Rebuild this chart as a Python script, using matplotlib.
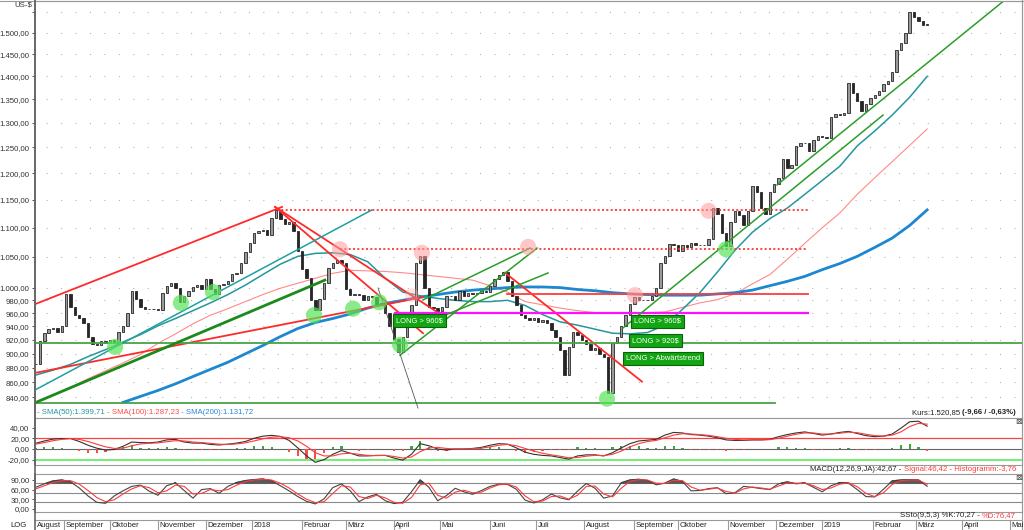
import numpy as np
import pandas as pd
import matplotlib
matplotlib.use("Agg")
import matplotlib.pyplot as plt
from matplotlib.ticker import FixedLocator, NullLocator
from matplotlib.lines import Line2D
import matplotlib.transforms as mtrans

plt.rcParams["font.family"] = ["Liberation Sans", "DejaVu Sans"]

# ---------------------------------------------------------------- data
first_day = "2017-08-14"            # trading-day index 0
candle_first, candle_step = 1, 2    # one candle every 2 trading days
closes = [885, 918, 930, 936, 938, 932, 940, 990, 970, 958,
          953, 945, 925, 914, 913, 918, 916, 920, 915, 932,
          940, 960, 995, 982, 970, 966, 966, 967, 965, 992,
          1002, 1008, 1000, 978, 986, 995, 1001, 1004, 998, 1014,
          998, 990, 1004, 1005, 1010, 1022, 1023, 1040, 1058, 1074,
          1090, 1095, 1096, 1088, 1118, 1132, 1115, 1106, 1110, 1094,
          1060, 1030, 1015, 980, 965, 982, 1008, 1032, 1040, 1045,
          1040, 998, 988, 990, 988, 980, 986, 985, 975, 976,
          960, 940, 922, 902, 925, 950, 972, 1040, 1052, 1000,
          970, 968, 964, 970, 987, 986, 980, 994, 986, 991,
          990, 992, 995, 993, 1002, 1013, 1020, 1025, 1010, 986,
          972, 958, 953, 950, 953, 947, 950, 945, 935, 925,
          905, 870, 910, 932, 928, 920, 914, 906, 908, 900,
          895, 845, 916, 925, 940, 957, 974, 985, 980, 981,
          980, 986, 1000, 1040, 1052, 1072, 1071, 1060, 1070, 1066,
          1074, 1070, 1070, 1070, 1080, 1135, 1125, 1090, 1068, 1110,
          1130, 1122, 1104, 1130, 1175, 1165, 1135, 1125, 1165, 1180,
          1190, 1228, 1210, 1215, 1252, 1258, 1258, 1242, 1265, 1272,
          1270, 1268, 1312, 1318, 1316, 1320, 1385, 1362, 1345, 1325,
          1340, 1352, 1358, 1368, 1382, 1390, 1410, 1460, 1475, 1500,
          1550, 1538, 1528, 1518, 1520.85]

ind_first, ind_step = 1, 4          # indicator samples every 4 trading days
macd_line = [10.6, 15, 18.5, 19.5, 19.5, 14, 7, 1.5, -2, -1,
             5, 13, 12, 11.5, 13, 17, 18, 13, 11, 11,
             8.5, 7.5, 9, 11, 14, 20, 24, 25.5, 23.5, 16,
             2, -13, -25, -20, -10, -3, -8, -13, -13, -12,
             -12, -17, -21, -10, 10, 6, 0, -2, 0, 0,
             1, 3, 7, 10, 9, 2, -6, -10, -12, -13,
             -16, -19, -13, -11, -11, -13, -7, 2, 10, 15,
             16.5, 18, 26, 31, 30, 27, 26, 24, 21, 17,
             16, 16, 17, 17, 18, 23, 27, 30, 32, 29,
             26, 28, 31, 33, 29, 25, 23, 24, 28, 39,
             51, 52, 42.67]
macd_signal = [9, 12, 15.5, 18, 19.5, 18, 14, 9, 4, 1,
               1.5, 6, 9.5, 10.5, 11.5, 13.5, 15.5, 15, 13, 12,
               10.5, 9, 8.5, 9.5, 11.5, 15, 19, 22, 23, 21,
               15, 5, -7, -13, -13, -9, -8, -10, -12, -12.5,
               -12, -14, -17, -15, -5, 2, 3, 1, 0, 0,
               0.5, 1.5, 4, 7, 8.5, 6, 1, -4, -8, -11,
               -13.5, -16.5, -16, -13.5, -12, -12.5, -10, -4, 4, 10,
               14, 16, 21, 26, 28.5, 28, 27, 25.5, 23, 20,
               18, 17, 17, 17, 17.5, 20, 24, 27.5, 30, 30,
               28, 28, 29.5, 31.5, 30.5, 27.5, 25, 24, 26, 32,
               42, 48, 46.42]
macd_hist = [1.6, 3, 3, 1.5, 0, -4, -7, -7.5, -6, -2,
             3.5, 7, 2.5, 1, 1.5, 3.5, 2.5, -2, -2, -1,
             -2, -1.5, 0.5, 1.5, 2.5, 5, 5, 3.5, 0.5, -5,
             -13, -18, -18, -7, 3, 6, 0, -3, -1, 0.5,
             0, -3, -4, 5, 15, 4, -3, -3, 0, 0,
             0.5, 1.5, 3, 3, 0.5, -4, -7, -6, -4, -2,
             -2.5, -2.5, 3, 2.5, 1, -0.5, 3, 6, 6, 5,
             2.5, 2, 5, 5, 1.5, -1, -1, -1.5, -2, -3,
             -2, -1, 0, 0, 0.5, 3, 3, 2.5, 2, -1,
             -2, 0, 1.5, 1.5, -1.5, -2.5, -2, 0, 2, 7,
             9, 4, -3.76]
stoch_k = [67, 78, 87, 90, 84, 65, 40, 20, 17, 40,
           56, 70, 74, 55, 42, 72, 81, 57, 33, 60,
           63, 48, 70, 82, 88, 91, 93, 87, 72, 56,
           38, 23, 15, 31, 66, 78, 56, 22, 37, 45,
           25, 16, 20, 53, 90, 67, 25, 41, 64, 53,
           45, 57, 70, 77, 76, 61, 27, 18, 28, 46,
           34, 28, 55, 79, 64, 33, 40, 81, 90, 92,
           88, 75, 80, 93, 85, 56, 57, 63, 66, 47,
           50, 70, 67, 63, 60, 78, 84, 78, 81, 67,
           53, 72, 82, 80, 60, 38, 37, 61, 87, 90,
           91, 90, 70.27]
stoch_d = [62, 72, 82, 88, 88, 77, 57, 35, 22, 28,
           46, 62, 72, 66, 50, 56, 74, 70, 46, 48,
           60, 56, 60, 74, 85, 90, 92, 90, 80, 65,
           46, 30, 19, 22, 48, 72, 68, 38, 32, 42,
           34, 20, 17, 35, 75, 80, 42, 33, 52, 58,
           50, 52, 65, 75, 77, 68, 40, 22, 24, 38,
           40, 30, 42, 70, 71, 46, 37, 64, 86, 91,
           90, 80, 79, 89, 88, 68, 58, 61, 65, 54,
           49, 62, 68, 65, 61, 71, 81, 80, 80, 72,
           60, 65, 77, 81, 69, 48, 38, 50, 76, 88,
           90, 90, 76.47]

sma_first, sma_step = 1, 8          # moving-average samples every 8 trading days
sma50 = [870, 877, 885, 896, 906, 917, 928, 941, 952, 964,
         976, 989, 1004, 1021, 1038, 1051, 1056, 1057, 1054, 1042,
         1015, 993, 987, 983, 980, 978, 978, 980, 972, 958,
         947, 942, 936, 930, 929, 931, 942, 966, 992, 1025,
         1061, 1092, 1116, 1135, 1160, 1186, 1213, 1253, 1283, 1316,
         1354, 1399.71]
sma100_skip = 2
sma100 = [853, 865, 876, 887, 899, 915, 929, 944, 957, 967,
          978, 989, 999, 1007, 1015, 1023, 1028, 1027, 1026, 1024,
          1021, 1018, 1015, 1012, 1003, 993, 978, 973, 968, 964,
          961, 960, 960, 961, 962, 969, 976, 981, 990, 1006,
          1021, 1046, 1073, 1100, 1126, 1160, 1191, 1222, 1254, 1287.23]
sma200_skip = 5
sma200 = [833, 841, 849, 858, 868, 878, 888, 900, 912, 925,
          937, 946, 952, 959, 968, 975, 980, 985, 989, 993,
          996, 998, 1000, 1001, 1001, 1000, 997, 995, 992, 990,
          989, 988, 988, 988, 990, 992, 996, 1003, 1010, 1018,
          1029, 1039, 1051, 1066, 1082, 1104, 1131.72]

# drawn analysis (trading-day index, price)
red_trend = [(0.7, 974, 113.8, 1137), (110.6, 1137, 178.3, 930),
             (110.6, 1137, 184.7, 962), (0.7, 873, 178.3, 985),
             (215.8, 1024, 278.5, 861)]
red_level = [(216.7, 354.5, 990)]
red_dotted_level = [(111.5, 354.5, 1132), (140.3, 354.5, 1063)]
magenta_level = [(165.5, 354.5, 960)]
green_level = [(0.7, 452.4, 915), (0.7, 339.4, 832)]
green_thick_trend = [(0.7, 832.5, 133.4, 1012)]
green_trend = [(167.8, 898, 230.5, 1065), (178.3, 980.6, 227.3, 1065),
               (186.1, 954, 235.5, 1023.6), (269.8, 937.8, 388.8, 1316),
               (340.3, 1177.5, 446.9, 1591)]
teal_trend = [(0.7, 849.6, 154.9, 1131.6)]
gray_trend = [(157.7, 999.5, 176.0, 825.6)]
green_marks_x = [37.4, 67.5, 82.2, 128.4, 146.3, 158.2, 167.8, 262.5, 317.0]
green_marks_p = [910, 976, 993, 957, 967, 977, 913, 838, 1063]
red_marks_x = [140.3, 177.8, 226.4, 275.3, 309.0]
red_marks_p = [1063, 1057, 1067, 988, 1130]
faint_marks_x = [173.3]
faint_marks_p = [988]
signal_labels = ["LONG > 960$", "LONG > 960$", "LONG > 920$", "LONG > Abwärtstrend"]
signal_x = [176.5, 285.6, 284.7, 288.0]
signal_p = [949, 948, 918.6, 892.7]

month_names = ["Januar", "Februar", "März", "April", "Mai", "Juni", "Juli",
               "August", "September", "Oktober", "November", "Dezember"]

# ---------------------------------------------------------------- helpers
W, H = 1024, 530
fig = plt.figure(figsize=(W / 100, H / 100), dpi=100)
fig.patch.set_facecolor("white")


def rect(x0, y0, x1, y1):
    return [x0 / W, 1 - y1 / H, (x1 - x0) / W, (y1 - y0) / H]


def de(v):
    s = f"{v:,.2f}"
    return s.replace(",", "X").replace(".", ",").replace("X", ".")


XL = (0.73, 452.4)
FS = 5.6
main = fig.add_axes(rect(35, 1, 1022, 418))
macd = fig.add_axes(rect(35, 418, 1022, 465))
sto = fig.add_axes(rect(35, 474, 1022, 511.7))

for a in (main, macd, sto):
    a.set_xlim(*XL)
    a.set_xticks([])
    for s in a.spines.values():
        s.set_color("#9a9a9a")
        s.set_linewidth(0.8)
    a.spines["left"].set_color("#666666")
    a.spines["left"].set_linewidth(1.2)
    a.tick_params(axis="y", labelsize=FS, length=2, width=0.6,
                  colors="#333333", pad=2)
    a.set_facecolor("white")

# ---------------------------------------------------------------- main panel
main.set_yscale("log")
main.set_ylim(812.6, 1578)
yt = [840, 860, 880, 900, 920, 940, 960, 980, 1000, 1050, 1100, 1150, 1200,
      1250, 1300, 1350, 1400, 1450, 1500, 1550]
main.yaxis.set_major_locator(FixedLocator(yt))
main.yaxis.set_minor_locator(NullLocator())
main.set_yticklabels([de(v) if v < 1550 else "" for v in yt])
for v in yt:
    main.axhline(v, color="#b4b4b4", lw=0.8, ls=(3, (1, 12)), zorder=0)

# candles
c = np.array(closes, dtype=float)
o = np.r_[c[:1], c[:-1]]
xc = candle_first + candle_step * np.arange(len(c))
lo = np.minimum(o, c)
hgt = np.maximum(np.abs(c - o), 1.0)
up = c >= o
main.bar(xc, hgt, bottom=lo, width=1.1,
         color=np.where(up, "#9a9a9a", "#262626"),
         edgecolor="#262626", linewidth=0.6, zorder=3)

# moving averages
xs = sma_first + sma_step * np.arange(len(sma50))
main.plot(xs[sma100_skip:], sma100, color="#ff8a8a", lw=0.8, zorder=2)
main.plot(xs[sma200_skip:], sma200, color="#1d87d0", lw=2.0, zorder=2)
main.plot(xs, sma50, color="#23979c", lw=1.1, zorder=2)

# analysis lines
for x0, p0, x1, p1 in red_trend:
    main.plot([x0, x1], [p0, p1], color="#ff2a2a", lw=1.3, zorder=4)
for x0, x1, p in red_level:
    main.plot([x0, x1], [p, p], color="#ff3b3b", lw=1.3, zorder=4)
for x0, x1, p in red_dotted_level:
    main.plot([x0, x1], [p, p], color="#ff2a2a", lw=1.2, ls=(0, (1.2, 1.4)), zorder=4)
for x0, x1, p in magenta_level:
    main.plot([x0, x1], [p, p], color="#ff10ff", lw=1.6, zorder=4)
for x0, x1, p in green_level:
    main.plot([x0, x1], [p, p], color="#47a447", lw=1.3, zorder=4)
for x0, p0, x1, p1 in green_thick_trend:
    main.plot([x0, x1], [p0, p1], color="#1b8a1b", lw=2.0, zorder=4)
for x0, p0, x1, p1 in green_trend:
    main.plot([x0, x1], [p0, p1], color="#2a9e2a", lw=1.1, zorder=4)
for x0, p0, x1, p1 in teal_trend:
    main.plot([x0, x1], [p0, p1], color="#1fa0a0", lw=1.1, zorder=4)
for x0, p0, x1, p1 in gray_trend:
    main.plot([x0, x1], [p0, p1], color="#555555", lw=0.6, zorder=4)

main.scatter(green_marks_x, green_marks_p, s=135, color="#59e359", alpha=0.7,
             edgecolors="none", zorder=5)
main.scatter(red_marks_x, red_marks_p, s=135, color="#ff9a9a", alpha=0.55,
             edgecolors="none", zorder=5)
main.scatter(faint_marks_x, faint_marks_p, s=100, color="#ffb0b0", alpha=0.35,
             edgecolors="none", zorder=5)

for t, x, p in zip(signal_labels, signal_x, signal_p):
    main.text(x, p, t, fontsize=5.4, color="white", ha="center", va="center",
              zorder=6,
              bbox=dict(boxstyle="square,pad=0.4", fc="#12a612", ec="#0b640b", lw=0.8))

# ---------------------------------------------------------------- MACD panel
xi = ind_first + ind_step * np.arange(len(macd_line))
macd.set_ylim(-30, 58)
macd.set_yticks([-20, 0, 20, 40])
macd.set_yticklabels([de(v) for v in [-20, 0, 20, 40]])
macd.axhline(20, color="#ff4040", lw=0.9, zorder=1)
macd.axhline(-20, color="#66ee66", lw=1.3, zorder=1)
macd.axhline(0, color="#666666", lw=0.8, zorder=1)
h = np.array(macd_hist)
macd.bar(xi, h, width=1.0, color=np.where(h >= 0, "#3aa83a", "#ff4a4a"), zorder=2)
macd.plot(xi, macd_line, color="#333333", lw=0.8, zorder=3)
macd.plot(xi, macd_signal, color="#ff3b3b", lw=0.8, zorder=3)

# ---------------------------------------------------------------- stochastic panel
sto.set_ylim(-9.4, 108.8)
sto.set_yticks([0, 30, 60, 90])
sto.set_yticklabels([de(v) for v in [0, 30, 60, 90]])
for v in (80, 50, 20):
    sto.axhline(v, color="#8a8a8a", lw=0.8, zorder=1)
k = np.array(stoch_k, dtype=float)
sto.fill_between(xi, k, 80, where=k > 80, interpolate=True, color="#5a5a5a", zorder=2)
sto.plot(xi, stoch_k, color="#444444", lw=0.8, zorder=3)
sto.plot(xi, stoch_d, color="#ff3b3b", lw=0.8, zorder=3)

# ---------------------------------------------------------------- frame lines
def fline(x0, y0, x1, y1, color="#9a9a9a", lw=0.8):
    fig.add_artist(Line2D([x0 / W, x1 / W], [1 - y0 / H, 1 - y1 / H],
                          transform=fig.transFigure, color=color, lw=lw))

fline(0, 0.5, 1024, 0.5)
fline(1022, 0, 1022, 530)
fline(35, 520, 1022, 520)
fline(35, 0, 35, 530, color="#666666", lw=1.2)

# ---------------------------------------------------------------- x labels
days = pd.bdate_range(first_day, periods=480)
month_starts = pd.date_range("2017-09-01", "2019-05-01", freq="MS")
blend = mtrans.blended_transform_factory(sto.transData, fig.transFigure)
ylab = 1 - 525.5 / H
fig.text(37 / W, ylab, "August", fontsize=FS, color="#222222", va="center", ha="left")
for m in month_starts:
    pos = days.searchsorted(m)
    lab = str(m.year) if m.month == 1 else month_names[m.month - 1]
    fig.add_artist(Line2D([pos, pos], [1 - 520 / H, 0], transform=blend,
                          color="#9a9a9a", lw=0.8))
    t = fig.text(pos, ylab, lab, fontsize=FS, color="#222222", va="center",
                 ha="left", transform=blend)
    t.set_transform(blend + mtrans.ScaledTranslation(1.5 / 100, 0, fig.dpi_scale_trans))
fig.text(10 / W, ylab, "LOG", fontsize=FS, color="#222222", va="center")

# ---------------------------------------------------------------- info texts
renderer = fig.canvas.get_renderer()


def chain(x_px, y_px, parts, align="left"):
    seq = parts if align == "left" else list(reversed(parts))
    x = x_px
    for s, col, wt in seq:
        t = fig.text(x / W, 1 - y_px / H, s, color=col, fontsize=FS, fontweight=wt,
                     ha=align, va="center")
        w = t.get_window_extent(renderer).width
        x = x + w if align == "left" else x - w


fig.text(32 / W, 1 - 5 / H, "US-$", fontsize=FS, color="#333333", ha="right", va="center")
chain(37, 413, [("- SMA(50):1.399,71", "#23979c", "normal"),
                (" - SMA(100):1.287,23", "#ff4a4a", "normal"),
                (" - SMA(200):1.131,72", "#2a8ad0", "normal")], "left")
chain(1016, 413, [("Kurs:1.520,85 ", "#222222", "normal"),
                  ("(-9,66 / -0,63%)", "#222222", "bold")], "right")
chain(1016, 469.7, [("MACD(12,26,9,JA):42,67 - ", "#222222", "normal"),
                    ("Signal:46,42 - Histogramm:-3,76", "#ff3b3b", "normal")], "right")
chain(1016, 515.7, [("SSto(9,5,3) %K:70,27 - ", "#222222", "normal"),
                    ("%D:76,47", "#ff3b3b", "normal")], "right")
for yb in (421, 478):
    fig.text(1019 / W, 1 - yb / H, "\u22a0", fontsize=6, color="#444444",
             ha="center", va="center", family=["DejaVu Sans"])

fig.savefig("out.png", dpi=100, facecolor="white")
